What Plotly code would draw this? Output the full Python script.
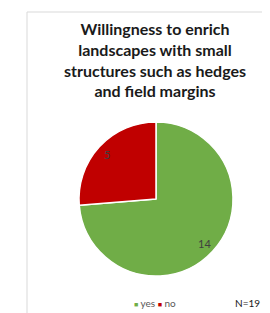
import math
import plotly.graph_objects as go

labels = ["yes", "no"]
values = [14, 5]
colors = ["#70AD47", "#C00000"]
title_lines = ["Willingness to enrich", "landscapes with small",
               "structures such as hedges", "and field margins"]
note = "N=19"

OFF = 8                      # default page body margin
W, H = 270 - OFF, 313 - OFF  # visible figure area


def fx(xp):
    return (xp - OFF) / W


def fy(yp):
    return 1 - (yp - OFF) / H


cx, cy, R = 156, 199, 77  # pie centre / radius in page pixels

fig = go.Figure(go.Pie(
    labels=labels, values=values,
    marker=dict(colors=colors, line=dict(color="white", width=1.5)),
    sort=False, direction="clockwise", rotation=0,
    textinfo="none", showlegend=False, hoverinfo="label+value",
    domain=dict(x=[fx(cx - R), fx(cx + R)], y=[fy(cy + R), fy(cy - R)]),
))

# data labels at ~0.86 R along each slice's mid-angle (Excel "inside end" style)
annotations = []
total = sum(values)
start = 0.0
for lab, v in zip(labels, values):
    mid = (start + v / 2) / total * 2 * math.pi
    start += v
    px = cx + 0.86 * R * math.sin(mid)
    py = cy - 0.86 * R * math.cos(mid)
    annotations.append(dict(text=str(v), xref="paper", yref="paper", x=fx(px), y=fy(py),
                            xanchor="center", yanchor="middle", showarrow=False,
                            font=dict(family="Lato", size=11, color="#404040")))

legend_text = " ".join(
    f'<span style="color:{c};font-size:7px">■</span> {lab}' for lab, c in zip(labels, colors))
annotations.append(dict(text=legend_text, xref="paper", yref="paper", x=fx(155), y=fy(303),
                        xanchor="center", yanchor="middle", showarrow=False,
                        font=dict(family="Lato", size=10, color="#595959")))
annotations.append(dict(text=note, xref="paper", yref="paper", x=fx(262), y=fy(303),
                        xanchor="right", yanchor="middle", showarrow=False,
                        font=dict(family="Lato", size=10, color="#1a1a1a")))

fig.update_layout(
    width=W, height=H,
    margin=dict(l=0, r=0, t=0, b=0, autoexpand=False),
    paper_bgcolor="white", plot_bgcolor="white",
    title=dict(text="<br>".join(title_lines), x=fx(155), xanchor="center",
               y=fy(35), yanchor="top",
               font=dict(family="Lato", size=16, color="#1a1a1a", weight="bold")),
    showlegend=False,
    shapes=[dict(type="rect", xref="paper", yref="paper",
                 x0=fx(27), x1=1.05, y0=-0.05, y1=fy(12),
                 line=dict(color="#d9d9d9", width=1), layer="below")],
    annotations=annotations,
)

fig.write_html("out.html")
